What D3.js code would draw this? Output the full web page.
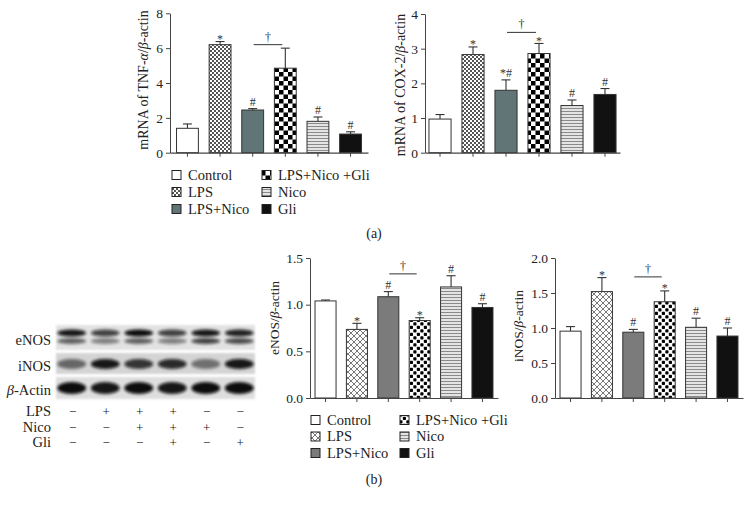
<!DOCTYPE html>
<html>
<head>
<meta charset="utf-8">
<script src="https://cdn.jsdelivr.net/npm/d3@7"></script>
<style>
  body { margin: 0; background: #fff; }
  svg { display: block; }
  svg text { font-family: "Liberation Serif", "Times New Roman", serif; }
</style>
</head>
<body>
<div id="fig"></div>
<script>
// Grupos
const groups = ["Control", "LPS", "LPS+Nico", "LPS+Nico +Gli", "Nico", "Gli"];

// (a) mRNA
const tnfMean = [1.4, 6.2, 2.45, 4.85, 1.8, 1.07];
const tnfErr = [1.65, 6.38, 2.53, 6.0, 2.05, 1.2];
const tnfMarks = ["", "*", "#", "", "#", "#"];
const tnfTicks = [0, 2, 4, 6, 8];

const coxMean = [0.97, 2.83, 1.8, 2.86, 1.36, 1.68];
const coxErr = [1.1, 3.05, 2.1, 3.15, 1.52, 1.85];
const coxMarks = ["", "*", "*#", "*", "#", "#"];
const coxTicks = [0, 1, 2, 3, 4];

// (b) western blot cuantificado
const enosMean = [1.04, 0.735, 1.085, 0.83, 1.19, 0.97];
const enosErr = [1.05, 0.8, 1.14, 0.86, 1.31, 1.01];
const enosMarks = ["", "*", "#", "*", "#", "#"];
const enosTicks = [0, 0.5, 1.0, 1.5];

const inosMean = [0.955, 1.52, 0.94, 1.375, 1.01, 0.885];
const inosErr = [1.02, 1.72, 0.98, 1.53, 1.14, 1.0];
const inosMarks = ["", "*", "#", "*", "#", "#"];
const inosTicks = [0, 0.5, 1.0, 1.5, 2.0];

// Blot
const lanes = [0, 1, 2, 3, 4, 5];
const lpsSigns = ["−", "+", "+", "+", "−", "−"];
const nicoSigns = ["−", "−", "+", "+", "+", "−"];
const gliSigns = ["−", "−", "−", "+", "−", "+"];
const enosUpper = [0.95, 0.75, 1.0, 0.75, 0.95, 0.9];
const enosLower = [0.6, 0.45, 0.6, 0.45, 0.75, 0.7];
const inosBand = [0.55, 0.95, 0.8, 0.85, 0.5, 0.95];
const actinBand = [1.0, 0.95, 1.0, 0.95, 1.0, 1.0];

const W = 752, H = 505;
const FONT = "Liberation Serif, Times New Roman, serif";
const svg = d3.select("#fig").append("svg").attr("width", W).attr("height", H)
  .attr("font-family", FONT);
const defs = svg.append("defs");

// Patrones
function pat(id, w, h, draw) {
  const p = defs.append("pattern").attr("id", id).attr("patternUnits", "userSpaceOnUse")
    .attr("width", w).attr("height", h);
  draw(p);
}
pat("pFine", 4, 4, p => {
  p.append("rect").attr("width", 4).attr("height", 4).attr("fill", "#fff");
  p.append("rect").attr("width", 2).attr("height", 2).attr("fill", "#555");
  p.append("rect").attr("x", 2).attr("y", 2).attr("width", 2).attr("height", 2).attr("fill", "#555");
});
pat("pChk", 9, 9, p => {
  p.append("rect").attr("width", 9).attr("height", 9).attr("fill", "#fff");
  p.append("rect").attr("width", 4.5).attr("height", 4.5).attr("fill", "#000");
  p.append("rect").attr("x", 4.5).attr("y", 4.5).attr("width", 4.5).attr("height", 4.5).attr("fill", "#000");
});
pat("pCross", 6, 6, p => {
  p.append("rect").attr("width", 6).attr("height", 6).attr("fill", "#fff");
  p.append("path").attr("d", "M0,0L6,6M6,0L0,6").attr("stroke", "#555").attr("stroke-width", 0.8);
});
pat("pDots", 7, 7, p => {
  p.append("rect").attr("width", 7).attr("height", 7).attr("fill", "#fff");
  p.append("rect").attr("x", 0.3).attr("y", 0.3).attr("width", 3.2).attr("height", 3.2).attr("rx", 0.8).attr("fill", "#000");
  p.append("rect").attr("x", 3.8).attr("y", 3.8).attr("width", 3.2).attr("height", 3.2).attr("rx", 0.8).attr("fill", "#000");
});
pat("pStripe", 3, 3, p => {
  p.append("rect").attr("width", 3).attr("height", 3).attr("fill", "#e4e4e4");
  p.append("rect").attr("width", 3).attr("height", 1).attr("fill", "#8a8a8a");
});
defs.append("filter").attr("id", "blur").attr("x", "-50%").attr("y", "-50%").attr("width", "200%").attr("height", "200%")
  .append("feGaussianBlur").attr("stdDeviation", 1.6);
defs.append("filter").attr("id", "blur2").attr("x", "-10%").attr("y", "-30%").attr("width", "120%").attr("height", "160%")
  .append("feGaussianBlur").attr("stdDeviation", 1.2);

const fillsTop = ["#fff", "url(#pFine)", "#617476", "url(#pChk)", "url(#pStripe)", "#111"];
const fillsBot = ["#fff", "url(#pCross)", "#7b7b7b", "url(#pDots)", "url(#pStripe)", "#111"];

const axisColor = "#444";

// Crea una grafica de barras
function barChart(c) {
  const g = svg.append("g");
  const x = d3.scaleBand().domain(groups).range([c.x0, c.x1]).paddingInner(0.33).paddingOuter(c.po);
  const y = d3.scaleLinear().domain([0, c.max]).range([c.yBot, c.yTop]);

  // Eje Y
  const ay = g.append("g").attr("transform", `translate(${c.x0},0)`)
    .call(d3.axisLeft(y).tickValues(c.ticks).tickFormat(d3.format(c.fmt)).tickSize(4).tickSizeOuter(0).tickPadding(3));
  ay.attr("font-family", FONT);
  ay.select(".domain").attr("stroke", axisColor);
  ay.selectAll(".tick line").attr("stroke", axisColor);
  ay.selectAll("text").attr("font-size", 13.5).attr("fill", "#222");

  // Barras
  const data = groups.map((k, i) => ({ k, i, m: c.mean[i], e: c.err[i], s: c.marks[i] }));
  const bw = x.bandwidth();
  g.selectAll("line.err").data(data).join("line").attr("class", "err")
    .attr("x1", d => x(d.k) + bw / 2).attr("x2", d => x(d.k) + bw / 2)
    .attr("y1", d => y(d.m)).attr("y2", d => y(d.e)).attr("stroke", "#333").attr("stroke-width", 1.1);
  g.selectAll("line.cap").data(data).join("line").attr("class", "cap")
    .attr("x1", d => x(d.k) + bw / 2 - 4.5).attr("x2", d => x(d.k) + bw / 2 + 4.5)
    .attr("y1", d => y(d.e)).attr("y2", d => y(d.e)).attr("stroke", "#333").attr("stroke-width", 1.1);
  g.selectAll("rect.bar").data(data).join("rect").attr("class", "bar")
    .attr("x", d => x(d.k)).attr("y", d => y(d.m))
    .attr("width", bw).attr("height", d => c.yBot - y(d.m))
    .attr("fill", d => c.fills[d.i]).attr("stroke", "#333").attr("stroke-width", 1);

  // Eje X
  const ax = g.append("g").attr("transform", `translate(0,${c.yBot})`)
    .call(d3.axisBottom(x).tickFormat("").tickSize(4).tickSizeOuter(0));
  ax.select(".domain").attr("stroke", axisColor).attr("stroke-width", 1.2);
  ax.selectAll(".tick line").attr("stroke", axisColor);

  // Marcas de significacion
  g.selectAll("text.mk").data(data.filter(d => d.s)).join("text").attr("class", "mk")
    .attr("x", d => x(d.k) + bw / 2).attr("y", d => y(d.e) - 3)
    .attr("text-anchor", "middle").attr("font-size", 12).attr("fill", "#333")
    .attr("dy", d => d.s === "*" ? "0.35em" : "0")
    .text(d => d.s);

  // Daga
  const xa = x(groups[2]) + bw / 2 + 1, xb = x(groups[3]) + bw / 2 - 3;
  g.append("line").attr("x1", xa).attr("x2", xb).attr("y1", y(c.dagger)).attr("y2", y(c.dagger))
    .attr("stroke", "#333").attr("stroke-width", 1);
  g.append("text").attr("x", (xa + xb) / 2).attr("y", y(c.dagger) - 4).attr("text-anchor", "middle")
    .attr("font-size", 12).attr("fill", "#333").text("†");

  // Etiqueta Y
  const t = g.append("text").attr("transform", `translate(${c.lx},${c.ly}) rotate(-90)`)
    .attr("text-anchor", "middle").attr("font-size", c.lfs).attr("fill", "#222");
  c.label.forEach(([s, it]) => t.append("tspan").attr("font-style", it ? "italic" : "normal").text(s));
}

barChart({ mean: tnfMean, err: tnfErr, marks: tnfMarks, ticks: tnfTicks, fmt: "d", max: 8,
  x0: 170, x1: 368, po: 0.2, yTop: 13.3, yBot: 152.7, dagger: 6.2, fills: fillsTop,
  lx: 148, ly: 80, lfs: 14,
  label: [["mRNA of TNF-", false], ["α", true], ["/", false], ["β", true], ["-actin", false]] });

barChart({ mean: coxMean, err: coxErr, marks: coxMarks, ticks: coxTicks, fmt: "d", max: 4,
  x0: 425, x1: 620, po: 0.12, yTop: 14, yBot: 152.7, dagger: 3.47, fills: fillsTop,
  lx: 405, ly: 85, lfs: 14,
  label: [["mRNA of COX-2/", false], ["β", true], ["-actin", false]] });

barChart({ mean: enosMean, err: enosErr, marks: enosMarks, ticks: enosTicks, fmt: ".1f", max: 1.5,
  x0: 310, x1: 498, po: 0.16, yTop: 258, yBot: 398, dagger: 1.33, fills: fillsBot,
  lx: 279, ly: 318, lfs: 13.5,
  label: [["eNOS/", false], ["β", true], ["-actin", false]] });

barChart({ mean: inosMean, err: inosErr, marks: inosMarks, ticks: inosTicks, fmt: ".1f", max: 2,
  x0: 555, x1: 743, po: 0.16, yTop: 258, yBot: 398, dagger: 1.73, fills: fillsBot,
  lx: 523, ly: 326, lfs: 13.5,
  label: [["iNOS/", false], ["β", true], ["-actin", false]] });

// Leyendas
function legend(x1, x2, y0, dy, fills) {
  const g = svg.append("g");
  groups.forEach((k, i) => {
    const col = i < 3 ? 0 : 1, row = i % 3;
    const sx = col ? x2 : x1, sy = y0 + row * dy;
    g.append("rect").attr("x", sx).attr("y", sy - 4.5).attr("width", 9).attr("height", 9)
      .attr("fill", fills[i]).attr("stroke", "#222").attr("stroke-width", 1);
    g.append("text").attr("x", sx + 16).attr("y", sy + 4.5).attr("font-size", 14.5).attr("fill", "#222").text(k);
  });
}
legend(172, 262, 175, 17, fillsTop);
legend(311, 400, 420, 16.5, fillsBot);

svg.append("text").attr("x", 374).attr("y", 238).attr("text-anchor", "middle").attr("font-size", 14).attr("fill", "#222").text("(a)");
svg.append("text").attr("x", 374).attr("y", 484).attr("text-anchor", "middle").attr("font-size", 14).attr("fill", "#222").text("(b)");

// Western blot
const xl = d3.scaleBand().domain(lanes).range([55, 256]).paddingInner(0.2).paddingOuter(0.1);
const blot = svg.append("g");
const strips = [
  { y0: 325, y1: 350, bg: "#e2e2e2", bands: [{ v: enosUpper, y: 333, h: 3.5 }, { v: enosLower, y: 341, h: 3 }] },
  { y0: 353, y1: 374, bg: "#d4d4d4", bands: [{ v: inosBand, y: 364, h: 5 }] },
  { y0: 377, y1: 399, bg: "#dedede", bands: [{ v: actinBand, y: 388, h: 6 }] }
];
strips.forEach(s => {
  blot.append("rect").attr("x", 56).attr("y", s.y0).attr("width", 199).attr("height", s.y1 - s.y0)
    .attr("fill", s.bg).attr("filter", "url(#blur2)");
  s.bands.forEach(b => {
    blot.selectAll(null).data(lanes).join("ellipse")
      .attr("cx", d => xl(d) + xl.bandwidth() / 2).attr("cy", b.y)
      .attr("rx", xl.bandwidth() / 2 + 1).attr("ry", b.h)
      .attr("fill", "#0a0a0a").attr("opacity", d => b.v[d]).attr("filter", "url(#blur)");
  });
});
const rowLabels = [
  { t: [["eNOS", false]], y: 345 },
  { t: [["iNOS", false]], y: 371 },
  { t: [["β", true], ["-Actin", false]], y: 395 }
];
rowLabels.forEach(r => {
  const t = blot.append("text").attr("x", 51).attr("y", r.y).attr("text-anchor", "end").attr("font-size", 14.5).attr("fill", "#222");
  r.t.forEach(([s, it]) => t.append("tspan").attr("font-style", it ? "italic" : "normal").text(s));
});
const signRows = [["LPS", lpsSigns, 416], ["Nico", nicoSigns, 432], ["Gli", gliSigns, 447]];
signRows.forEach(([name, signs, yy]) => {
  blot.append("text").attr("x", 51).attr("y", yy).attr("text-anchor", "end").attr("font-size", 14.5).attr("fill", "#222").text(name);
  blot.selectAll(null).data(lanes).join("text")
    .attr("x", d => xl(d) + xl.bandwidth() / 2 + 1).attr("y", yy)
    .attr("text-anchor", "middle").attr("font-size", 13).attr("fill", "#222")
    .text(d => signs[d]);
});
</script>
</body>
</html>
